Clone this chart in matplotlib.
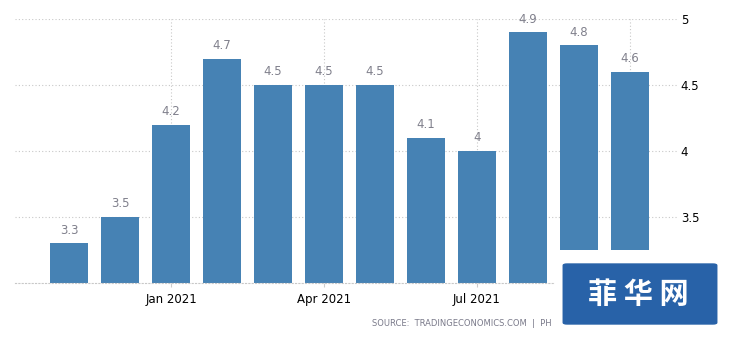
import matplotlib
matplotlib.use("Agg")
import matplotlib.pyplot as plt
from matplotlib.patches import FancyBboxPatch, Rectangle

months = ["Nov 2020", "Dec 2020", "Jan 2021", "Feb 2021", "Mar 2021", "Apr 2021",
          "May 2021", "Jun 2021", "Jul 2021", "Aug 2021", "Sep 2021", "Oct 2021"]
values = [3.3, 3.5, 4.2, 4.7, 4.5, 4.5, 4.5, 4.1, 4.0, 4.9, 4.8, 4.6]
tick_months = ["Jan 2021", "Apr 2021", "Jul 2021", "Oct 2021"]
tick_labels = ["Jan 2021", "Apr 2021", "Jul 2021", ""]  # last one is under the watermark
yticks = [3.5, 4, 4.5, 5]

W, H = 730, 340
fig = plt.figure(figsize=(W / 100, H / 100), dpi=100)
ax = fig.add_axes([15 / W, (H - 283) / H, (678 - 15) / W, (283 - 19) / H])

x = list(range(len(months)))
ax.bar(x, values, width=0.74, color="#4682b4", zorder=2)
for xi, v in zip(x, values):
    ax.text(xi, v + 0.05, "%g" % v, ha="center", va="bottom", fontsize=8.5,
            color="#80808c", zorder=3)

ax.set_xlim(-1.06, 11.94)
ax.set_ylim(3, 5)

ax.yaxis.tick_right()
ax.set_yticks(yticks)
ax.set_yticklabels(["%g" % t for t in yticks])
ax.tick_params(axis="y", length=0, pad=2, labelsize=8.5, labelcolor="black")

ax.set_xticks([months.index(m) for m in tick_months])
ax.set_xticklabels(tick_labels)
ax.tick_params(axis="x", length=3, color="#cccccc", pad=4, labelsize=8.5)

ax.grid(True, color="#c8c8c8", linestyle=(0, (1, 2)), linewidth=0.8, zorder=0)
for s in ["top", "left", "right"]:
    ax.spines[s].set_visible(False)
ax.spines["bottom"].set_color("#c8c8c8")
ax.spines["bottom"].set_linestyle((0, (1, 2)))
ax.spines["bottom"].set_linewidth(0.8)

fig.text(552 / W, 1 - 323 / H, "SOURCE:  TRADINGECONOMICS.COM  |  PH", ha="right",
         va="center", fontsize=6, color="#7a7a8a")

# watermark with its white backing
fig.patches.append(Rectangle((555 / W, 0), 175 / W, 90 / H, transform=fig.transFigure,
                             facecolor="white", edgecolor="none", zorder=9))
fig.patches.append(FancyBboxPatch((564 / W, 1 - 324 / H), 152 / W, 60 / H,
                                  boxstyle="round,pad=0.002,rounding_size=0.006",
                                  transform=fig.transFigure, facecolor="#2862a8",
                                  edgecolor="none", zorder=10))
fig.text(638 / W, 1 - 294 / H, "菲 华 网", ha="center", va="center",
         fontsize=21, fontweight="bold", color="white",
         family=["Noto Sans CJK SC", "DejaVu Sans"], zorder=11)

fig.savefig("out.png", dpi=100)
